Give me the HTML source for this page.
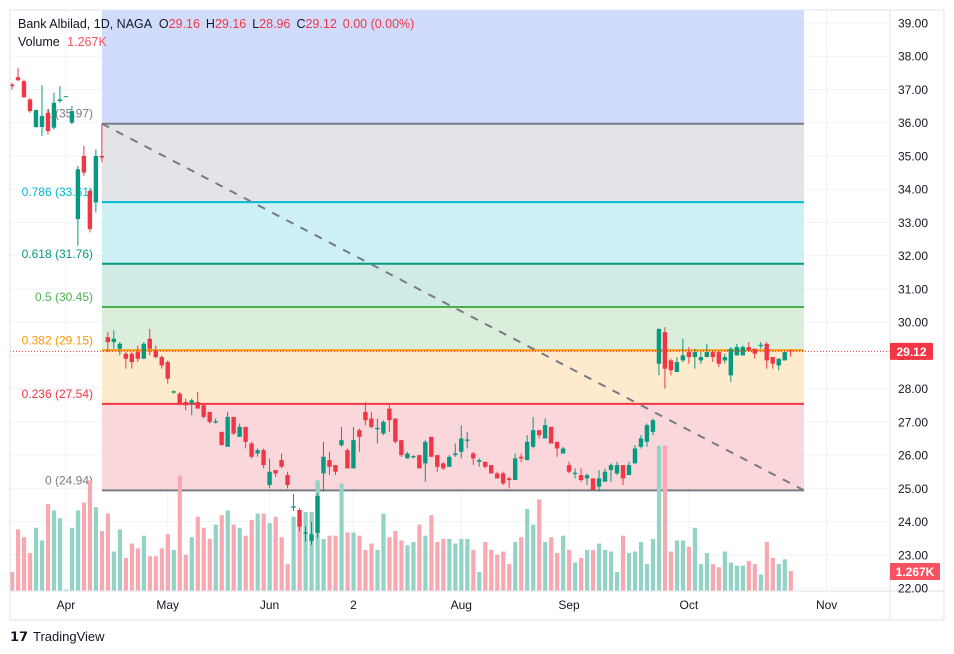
<!DOCTYPE html>
<html><head><meta charset="utf-8">
<style>
html,body{margin:0;padding:0;background:#fff;}
svg{display:block;font-family:"Liberation Sans",sans-serif;}
</style></head>
<body>
<svg id="chart" width="954" height="654" viewBox="0 0 954 654" xmlns="http://www.w3.org/2000/svg">
<rect x="0" y="0" width="954" height="654" fill="#ffffff"/>
<g id="grid"></g>
<g id="fib"></g>
<g id="vols"></g>
<g id="candles"></g>
<g id="axes"></g>
<g font-size="12.5">
<text x="18" y="28" fill="#131722">Bank Albilad, 1D, NAGA <tspan dx="4">O</tspan><tspan fill="#f23645">29.16</tspan><tspan dx="6">H</tspan><tspan fill="#f23645">29.16</tspan><tspan dx="6">L</tspan><tspan fill="#f23645">28.96</tspan><tspan dx="6">C</tspan><tspan fill="#f23645">29.12</tspan><tspan dx="6" fill="#f23645">0.00 (0.00%)</tspan></text>
<text x="18" y="46" fill="#131722">Volume <tspan dx="4" fill="#f7525f">1.267K</tspan></text>
</g>
<g>
<text x="10" y="641" font-size="13" font-weight="bold" fill="#131722">𝟭𝟳</text>
<text x="33" y="641" font-size="13" fill="#131722">TradingView</text>
</g>
</svg>
<script>
const opens=[37.15,37.37,37.25,36.7,35.87,35.87,36.3,35.85,36.65,36.8,36.0,33.1,35.0,33.95,33.6,35.0,29.55,29.4,29.2,29.05,29.05,29.1,28.9,29.5,29.15,28.95,28.8,27.88,27.85,27.6,27.55,27.6,27.5,27.3,26.98,26.7,26.25,27.15,26.55,26.85,26.35,26.05,26.15,25.1,25.55,25.85,25.4,24.42,24.35,23.64,23.42,23.66,25.45,25.85,25.7,26.3,26.15,25.6,26.75,27.3,27.1,26.78,26.65,27.4,27.1,26.45,25.9,25.93,26.0,25.75,26.55,26.0,25.75,25.65,26.0,26.1,26.43,26.05,25.8,25.8,25.7,25.45,25.45,25.3,25.25,25.95,25.85,26.25,26.75,26.5,26.85,26.4,26.05,25.7,25.43,25.4,25.3,25.3,25.05,25.2,25.55,25.45,25.7,25.4,25.75,26.25,26.4,26.7,28.75,29.7,28.85,28.5,28.85,29.1,28.95,28.85,28.95,29.1,29.1,28.85,28.4,29.0,29.0,29.25,29.2,29.28,29.35,28.95,28.7,28.85,29.16];
const highs=[37.2,37.65,37.3,36.75,36.4,37.13,36.35,36.9,37.1,36.8,36.5,34.7,35.3,34.0,35.2,35.97,29.7,29.75,29.4,29.1,29.1,29.3,29.4,29.8,29.3,29.0,28.85,27.95,27.9,27.7,27.7,27.9,27.5,27.3,27.1,26.7,27.3,27.15,26.95,26.85,26.4,26.2,26.2,25.9,25.55,26.05,25.5,24.83,24.4,23.85,24.0,24.85,26.4,26.1,25.7,26.85,26.2,26.85,26.8,27.6,27.3,27.1,27.05,27.55,27.1,26.45,26.1,26.0,26.0,26.45,26.55,26.0,25.8,26.0,26.35,26.9,26.7,26.1,25.9,25.8,25.7,25.5,25.5,25.35,26.05,26.05,26.6,27.15,26.75,27.1,26.85,26.4,26.25,25.8,25.6,25.6,25.45,25.3,25.55,25.6,25.75,25.8,25.7,25.8,26.3,26.6,26.95,27.1,29.8,29.85,28.9,28.95,29.5,29.25,29.2,29.1,29.35,29.15,29.15,29.05,29.25,29.35,29.3,29.4,29.2,29.4,29.4,28.95,28.9,29.15,29.16];
const lows=[37.0,37.25,36.75,36.3,35.85,35.6,35.65,35.8,36.6,36.8,35.95,32.3,34.4,32.7,33.3,34.8,29.1,29.2,29.0,28.6,28.6,28.8,28.9,29.0,28.9,28.6,28.15,27.85,27.5,27.35,27.2,27.4,27.1,26.95,26.95,26.3,26.25,26.6,26.55,26.2,25.9,25.95,25.6,25.0,25.35,25.6,25.0,24.32,23.7,23.4,23.3,23.5,24.9,25.4,25.4,26.25,25.6,25.6,26.1,26.9,26.8,26.35,26.6,26.7,26.35,25.95,25.9,25.9,25.6,25.2,25.95,25.5,25.55,25.65,25.95,25.9,26.2,25.7,25.65,25.6,25.45,25.3,25.1,25.0,25.25,25.8,25.85,26.2,26.5,26.5,26.35,25.95,26.05,25.45,25.3,25.2,25.1,24.95,24.9,25.2,25.2,25.4,25.1,25.4,25.75,26.2,26.25,26.6,28.4,28.0,28.4,28.5,28.8,28.75,28.6,28.75,28.95,28.8,28.65,28.75,28.2,29.0,29.0,29.1,28.9,29.2,28.6,28.6,28.55,28.85,28.96];
const closes=[37.1,37.28,36.77,36.35,36.38,36.2,35.75,36.6,36.7,36.8,36.35,34.6,34.5,32.8,35.0,34.95,29.4,29.5,29.35,28.9,28.8,28.9,29.35,29.2,28.95,28.7,28.3,27.92,27.55,27.5,27.65,27.4,27.15,27.0,27.02,26.3,27.15,26.65,26.85,26.4,25.95,26.15,25.7,25.5,25.45,25.65,25.1,24.46,23.85,23.68,23.62,24.77,25.95,25.65,25.5,26.45,25.6,26.45,26.55,27.05,26.85,26.82,27.0,27.05,26.4,26.0,26.05,25.97,25.6,26.4,25.95,25.65,25.6,25.95,26.05,26.5,26.47,25.9,25.85,25.65,25.45,25.3,25.15,25.25,25.9,25.9,26.4,26.75,26.6,26.9,26.35,26.2,26.2,25.5,25.47,25.25,25.4,24.95,25.3,25.5,25.7,25.7,25.3,25.7,26.2,26.5,26.9,27.05,29.8,28.6,28.55,28.8,29.0,28.95,29.1,28.95,29.1,28.95,28.75,28.95,29.2,29.25,29.25,29.15,29.05,29.32,28.85,28.75,28.9,29.1,29.12];
const volumesK=[1.2,3.9,3.4,2.4,4.0,3.2,5.5,5.1,4.6,0.08,4.0,5.1,5.6,7.0,5.3,3.8,4.9,2.5,3.9,2.1,3.0,2.7,3.5,2.2,2.2,2.7,3.6,2.6,7.3,2.3,3.4,4.7,4.0,3.3,4.2,4.8,5.1,4.2,4.0,3.5,4.5,4.9,4.9,4.3,4.7,3.4,1.7,4.7,4.4,5.0,5.0,7.0,3.3,3.5,3.5,6.8,3.7,3.7,3.5,2.6,3.0,2.6,4.9,3.4,3.8,3.2,2.9,3.1,4.2,3.5,4.8,3.1,3.3,3.3,3.0,3.3,3.3,2.6,1.2,3.1,2.6,2.3,2.5,1.7,3.1,3.4,5.2,4.2,5.8,3.1,3.4,2.4,3.5,2.6,1.8,2.1,2.6,2.6,3.0,2.6,2.5,1.2,3.5,2.4,2.5,3.1,1.7,3.3,9.2,9.2,2.5,3.2,3.2,2.8,4.0,1.7,2.4,1.7,1.5,2.5,1.8,1.6,1.6,1.9,1.7,1.05,3.1,2.1,1.7,2.0,1.267];
const priceTicks=[22,23,24,25,26,27,28,29,30,31,32,33,34,35,36,37,38,39];
const timeLabels=["Apr","May","Jun","2","Aug","Sep","Oct","Nov"];
const timeLabelIdx=[9,26,43,57,75,93,113,136];
const fibRatios=[1,0.786,0.618,0.5,0.382,0.236,0];
const fibHigh=35.97, fibLow=24.94, lastPrice=29.12, lastVolume="1.267K";

const NS="http://www.w3.org/2000/svg";
const PL=10, PR=890, PT=10, PB=591;
const xOf=i=>12+i*5.99;
const yOf=p=>23+(39-p)*33.24;
const vyOf=v=>PB-v*15.8;
function mk(tag,attrs,parent){const e=document.createElementNS(NS,tag);for(const k in attrs)e.setAttribute(k,attrs[k]);parent.appendChild(e);return e;}

const grid=document.getElementById('grid');
priceTicks.forEach(p=>{
  const l=mk('line',{x1:PL,x2:PR,y1:yOf(p),y2:yOf(p),stroke:'#f0f3fa','stroke-width':1},grid);
  
  
});
timeLabelIdx.forEach(i=>{
  const l=mk('line',{x1:xOf(i),x2:xOf(i),y1:PT,y2:PB,stroke:'#f0f3fa','stroke-width':1},grid);
  
  
});

const fib=document.getElementById('fib');
const fx1=102, fx2=804;
const fibColors=['#787b86','#00bcd4','#089981','#4caf50','#ff9800','#f23645','#787b86'];
const fibFills=['#e3e4e7','#ccf0f4','#d0ebe6','#dbeedc','#feeacd','#fad7da'];
const lvlPrice=r=>fibLow+(fibHigh-fibLow)*r;
const topZone=mk('rect',{x:fx1,y:PT,width:fx2-fx1,height:yOf(fibHigh)-PT,fill:'#d1dcfd'},fib);


for(let k=0;k<fibRatios.length-1;k++){
  const y1=yOf(lvlPrice(fibRatios[k])), y2=yOf(lvlPrice(fibRatios[k+1]));
  const r=mk('rect',{x:fx1,y:y1,width:fx2-fx1,height:y2-y1,fill:fibFills[k]},fib);
  
  
}
fibRatios.forEach((r,k)=>{
  const p=lvlPrice(r), y=yOf(p);
  const l=mk('line',{x1:fx1,x2:fx2,y1:y,y2:y,stroke:fibColors[k],'stroke-width':2},fib);
  
  
  const t=mk('text',{x:93,y:y-6,'text-anchor':'end','font-size':12,fill:fibColors[k]},fib);
  t.textContent=r+' ('+p.toFixed(2)+')';
  
  
});
const tl=mk('line',{x1:fx1,y1:yOf(fibHigh),x2:fx2,y2:yOf(fibLow),stroke:'#787b86','stroke-width':2,'stroke-dasharray':'8 8'},fib);



const vols=document.getElementById('vols');
volumesK.forEach((v,i)=>{
  if(i>=closes.length)return;
  const up=closes[i]>=opens[i];
  const r=mk('rect',{x:xOf(i)-2,y:vyOf(v),width:4.2,height:PB-vyOf(v),fill:up?'#92d3c6':'#f7a8b0'},vols);
  
  
});

const cg=document.getElementById('candles');
closes.forEach((c,i)=>{
  const o=opens[i], up=c>=o, col=up?'#089981':'#f23645', x=xOf(i);
  const g=mk('g',{},cg);
  
  
  mk('line',{x1:x,x2:x,y1:yOf(highs[i]),y2:yOf(lows[i]),stroke:col,'stroke-width':1},g);
  const yt=yOf(Math.max(o,c)), yb=yOf(Math.min(o,c));
  mk('rect',{x:x-2.2,y:yt,width:4.4,height:Math.max(1,yb-yt),fill:col},g);
});

const ax=document.getElementById('axes');
const lp=mk('line',{x1:PL,x2:PR,y1:yOf(lastPrice),y2:yOf(lastPrice),stroke:'#f23645','stroke-width':1,'stroke-dasharray':'1 2'},ax);


const fr=mk('rect',{x:PL,y:PT,width:944-PL,height:610,fill:'none',stroke:'#e0e3eb','stroke-width':1},ax);


const xa=mk('line',{x1:PL,x2:944,y1:PB,y2:PB,stroke:'#e0e3eb','stroke-width':1},ax);


const ya=mk('line',{x1:PR,x2:PR,y1:PT,y2:620,stroke:'#e0e3eb','stroke-width':1},ax);


priceTicks.forEach(p=>{
  const t=mk('text',{x:898,y:yOf(p)+4.5,'font-size':12,fill:'#131722'},ax);
  t.textContent=p.toFixed(2);
  
  
});
timeLabels.forEach((s,k)=>{
  const t=mk('text',{x:xOf(timeLabelIdx[k]),y:609,'font-size':12,fill:'#131722','text-anchor':'middle'},ax);
  t.textContent=s;
  
  
});
const pb=mk('rect',{x:890,y:yOf(lastPrice)-8.5,width:43,height:17,fill:'#f23645',rx:1},ax);


const pt=mk('text',{x:911.5,y:yOf(lastPrice)+4.5,'font-size':12,'font-weight':'bold',fill:'#fff','text-anchor':'middle'},ax);
pt.textContent=lastPrice.toFixed(2);


const vb=mk('rect',{x:890,y:563,width:50,height:17,fill:'#f7525f',rx:1},ax);


const vt=mk('text',{x:915,y:576,'font-size':12,'font-weight':'bold',fill:'#fff','text-anchor':'middle'},ax);
vt.textContent=lastVolume;


</script>
</body></html>
